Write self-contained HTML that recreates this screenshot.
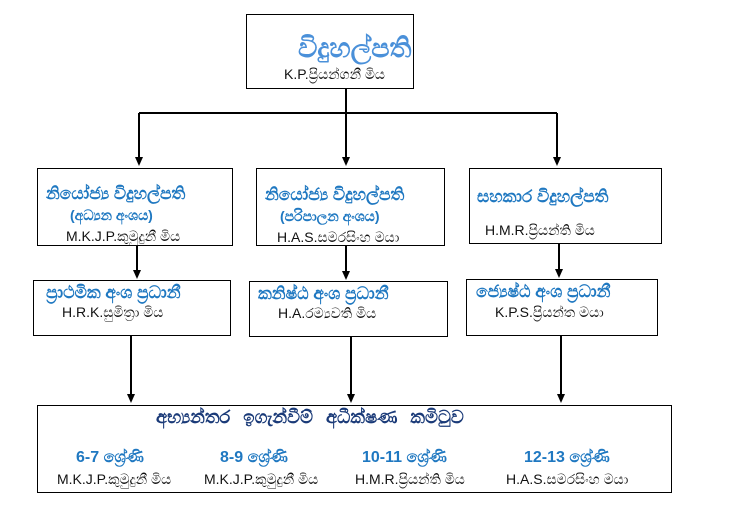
<!DOCTYPE html>
<html><head><meta charset="utf-8"><style>
body{margin:0;width:744px;height:510px;background:#fff;position:relative;overflow:hidden;font-family:"Liberation Sans",sans-serif}
.b{position:absolute;border:1.3px solid #000;box-sizing:border-box;background:#fff}
.t{position:absolute;white-space:nowrap;font-weight:bold;color:#1f78c1}
.n{position:absolute;white-space:nowrap;color:#111;font-size:14px}
svg{position:absolute;left:0;top:0}
</style></head><body>
<svg width="744" height="510">
<g stroke="#000" stroke-width="2" fill="none">
<line x1="346" y1="88" x2="346" y2="113"/>
<line x1="139" y1="113" x2="557" y2="113"/>
<line x1="139" y1="113" x2="139" y2="158"/>
<line x1="346" y1="113" x2="346" y2="158"/>
<line x1="557" y1="113" x2="557" y2="158"/>
<line x1="137" y1="245" x2="137" y2="271"/>
<line x1="346" y1="245" x2="346" y2="272"/>
<line x1="559" y1="243" x2="559" y2="270"/>
<line x1="131" y1="335" x2="131" y2="395"/>
<line x1="351" y1="336" x2="351" y2="395"/>
<line x1="561" y1="335" x2="561" y2="395"/>
</g>
<g fill="#000">
<polygon points="135,157 143,157 139,166"/>
<polygon points="342,157 350,157 346,166"/>
<polygon points="553,157 561,157 557,166"/>
<polygon points="133,270 141,270 137,279"/>
<polygon points="342,271 350,271 346,280"/>
<polygon points="555,269 563,269 559,278"/>
<polygon points="127,394 135,394 131,403"/>
<polygon points="347,394 355,394 351,403"/>
<polygon points="557,394 565,394 561,403"/>
</g></svg>
<div class="b" style="left:246px;top:14px;width:168px;height:75px"></div>
<div class="t" style="left:298px;top:33px;font-size:27px;color:#4a90d9">විදුහල්පති</div>
<div class="n" style="left:284px;top:66px">K.P.ප්‍රියන්ගනී මිය</div>

<div class="b" style="left:37px;top:168px;width:196px;height:78px"></div>
<div class="t" style="left:46px;top:184px;font-size:17px">නියෝජ්‍ය විදුහල්පති</div>
<div class="t" style="left:70px;top:207px;font-size:14px">(අධ්‍යන අංශය)</div>
<div class="n" style="left:66px;top:228px">M.K.J.P.කුමුදුනී මිය</div>

<div class="b" style="left:256px;top:168px;width:189px;height:78px"></div>
<div class="t" style="left:265px;top:185px;font-size:17px">නියෝජ්‍ය විදුහල්පති</div>
<div class="t" style="left:280px;top:208px;font-size:14px">(පරිපාලන අංශය)</div>
<div class="n" style="left:277px;top:229px">H.A.S.සමරසිංහ මයා</div>

<div class="b" style="left:469px;top:168px;width:193px;height:76px"></div>
<div class="t" style="left:477px;top:187px;font-size:17px">සහකාර විදුහල්පති</div>
<div class="n" style="left:485px;top:222px">H.M.R.ප්‍රියන්ති මිය</div>

<div class="b" style="left:33px;top:280px;width:198px;height:56px"></div>
<div class="t" style="left:46px;top:283px;font-size:17px">ප්‍රාථමික අංශ ප්‍රධානී</div>
<div class="n" style="left:62px;top:304px">H.R.K.සුමිත්‍රා මිය</div>

<div class="b" style="left:249px;top:281px;width:199px;height:56px"></div>
<div class="t" style="left:258px;top:284px;font-size:17px">කනිෂ්ඨ අංශ ප්‍රධානී</div>
<div class="n" style="left:278px;top:305px">H.A.රම්‍යවති මිය</div>

<div class="b" style="left:466px;top:279px;width:192px;height:57px"></div>
<div class="t" style="left:476px;top:282px;font-size:17px">ජ්‍යෙෂ්ඨ අංශ ප්‍රධානී</div>
<div class="n" style="left:495px;top:304px">K.P.S.ප්‍රියන්ත මයා</div>

<div class="b" style="left:37px;top:405px;width:635px;height:88px"></div>
<div class="t" style="left:156px;top:407px;font-size:18px;color:#1a3a78;word-spacing:8px">අභ්‍යන්තර ඉගැන්වීම් අධීක්ෂණ කමිටුව</div>
<div class="t" style="left:76px;top:449px;font-size:16px">6-7 ශ්‍රේණි</div>
<div class="t" style="left:220px;top:449px;font-size:16px">8-9 ශ්‍රේණි</div>
<div class="t" style="left:362px;top:449px;font-size:16px">10-11 ශ්‍රේණි</div>
<div class="t" style="left:524px;top:449px;font-size:16px">12-13 ශ්‍රේණි</div>
<div class="n" style="left:57px;top:471px">M.K.J.P.කුමුදුනී මිය</div>
<div class="n" style="left:204px;top:471px">M.K.J.P.කුමුදුනී මිය</div>
<div class="n" style="left:355px;top:471px">H.M.R.ප්‍රියන්ති මිය</div>
<div class="n" style="left:506px;top:471px">H.A.S.සමරසිංහ මයා</div>
</body></html>
